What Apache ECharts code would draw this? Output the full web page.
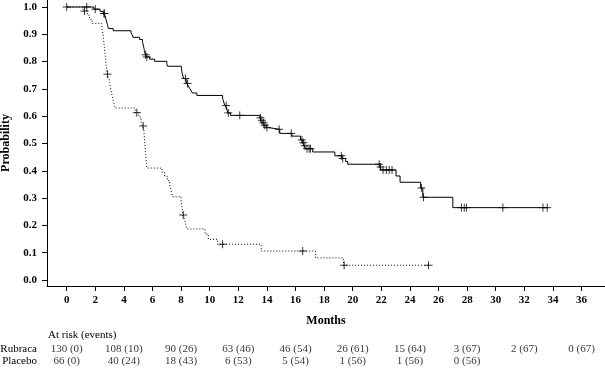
<!DOCTYPE html>
<html>
<head>
<meta charset="utf-8">
<script src="https://cdn.jsdelivr.net/npm/echarts@6/dist/echarts.min.js"></script>
<style>
html,body{margin:0;padding:0;background:#fff;}
#chart{width:605px;height:368px;}
</style>
</head>
<body>
<div id="chart"></div>
<script>
// ---------- DATA ----------
const xTicks = [0,2,4,6,8,10,12,14,16,18,20,22,24,26,28,30,32,34,36];
const yTicks = [0,0.1,0.2,0.3,0.4,0.5,0.6,0.7,0.8,0.9,1.0];

const rubracaTimes = [0,1.9,2.33,2.55,2.68,2.72,2.76,2.8,2.84,2.88,2.92,3.25,4.5,4.6,4.63,5.1,5.3,5.33,5.37,5.4,5.43,5.46,5.5,5.58,5.8,6.15,7.0,7.05,8.02,8.05,8.08,8.12,8.2,8.35,8.4,8.5,8.6,8.7,8.8,9.1,10.9,10.95,11.0,11.08,11.18,11.22,11.26,11.45,13.5,13.6,13.7,13.8,13.95,14.15,14.9,15.75,16.35,16.5,16.6,16.7,17.2,18.75,19.25,19.5,19.65,21.9,22.0,23.03,23.31,24.75,24.9,27.0];
const rubracaSurv  = [1.0,0.992,0.984,0.976,0.968,0.961,0.953,0.945,0.937,0.929,0.921,0.913,0.905,0.897,0.889,0.881,0.873,0.865,0.857,0.849,0.841,0.833,0.825,0.817,0.809,0.801,0.792,0.783,0.774,0.765,0.756,0.747,0.738,0.729,0.72,0.711,0.702,0.693,0.685,0.676,0.666,0.657,0.648,0.639,0.63,0.621,0.612,0.603,0.594,0.585,0.576,0.567,0.558,0.552,0.537,0.527,0.513,0.503,0.492,0.481,0.469,0.455,0.445,0.434,0.424,0.414,0.403,0.381,0.358,0.337,0.303,0.265];
const rubracaCensor = [0,1.4,2.0,2.6,2.65,5.52,5.6,8.3,8.45,11.15,11.3,12.1,13.55,13.65,13.75,13.85,14.0,14.85,15.7,16.45,16.55,16.65,16.8,16.95,17.05,19.2,19.3,21.85,21.95,22.12,22.35,22.55,22.75,24.8,24.95,27.6,27.8,27.95,30.5,33.3,33.6];

const placeboTimes = [0,1.15,1.45,1.6,1.77,2.45,2.5,2.55,2.58,2.61,2.64,2.67,2.7,2.73,2.76,2.8,2.83,2.95,3.0,3.05,3.1,3.17,3.24,3.31,3.38,4.78,5.05,5.2,5.3,5.4,5.42,5.45,5.47,5.5,5.52,5.55,5.58,5.6,6.65,6.85,7.05,7.2,7.27,7.33,7.4,8.0,8.05,8.1,8.12,8.25,8.32,8.4,9.67,9.9,10.55,13.6,17.4,19.35];
const placeboSurv  = [1.0,0.985,0.97,0.955,0.94,0.925,0.909,0.894,0.879,0.864,0.848,0.833,0.818,0.802,0.786,0.77,0.754,0.739,0.723,0.708,0.692,0.677,0.661,0.646,0.63,0.613,0.597,0.58,0.564,0.547,0.529,0.512,0.494,0.477,0.46,0.443,0.426,0.41,0.395,0.38,0.364,0.349,0.334,0.32,0.305,0.288,0.271,0.254,0.238,0.221,0.204,0.187,0.168,0.149,0.131,0.106,0.081,0.054];
const placeboCensor = [1.25,2.85,4.9,5.35,8.15,10.9,16.5,19.4,25.3];

const riskTimesRubraca = [0,4,8,12,16,20,24,28,32,36];
const riskRubraca = ['130 (0)','108 (10)','90 (26)','63 (46)','46 (54)','26 (61)','15 (64)','3 (67)','2 (67)','0 (67)'];
const riskTimesPlacebo = [0,4,8,12,16,20,24,28];
const riskPlacebo = ['66 (0)','40 (24)','18 (43)','6 (53)','5 (54)','1 (56)','1 (56)','0 (56)'];

// ---------- HELPERS ----------
function survAt(times, surv, t){
  let v = surv[0];
  for (let i=0;i<times.length;i++){ if (times[i] <= t) v = surv[i]; }
  return v;
}
function curve(times, surv, endT){
  const d = times.map((t,i)=>[t,surv[i]]);
  d.push([endT, surv[surv.length-1]]);
  return d;
}
function censorPts(times, surv, ct){
  return ct.map(t=>[t, survAt(times, surv, t)]);
}

const FONT = 'Liberation Serif';
const XMIN = -1.378, XMAX = 37.64;
const plus = 'path://M4,0L4,8M0,4L8,4';

const chart = echarts.init(document.getElementById('chart'), null, {renderer:'canvas'});
chart.setOption({
  animation:false,
  backgroundColor:'#fff',
  grid:[
    {left:47,right:0,top:0,height:286,outerBoundsMode:'none',containLabel:false},
    {left:47,right:0,top:343,height:24,outerBoundsMode:'none',containLabel:false}
  ],
  xAxis:[
    {type:'value',gridIndex:0,min:XMIN,max:XMAX,
     name:'Months',nameLocation:'middle',nameGap:29,
     nameTextStyle:{fontFamily:FONT,fontWeight:'bold',fontSize:12,color:'#000'},
     axisLine:{show:true,onZero:false,lineStyle:{color:'#000',width:1}},
     axisTick:{show:true,length:5,customValues:xTicks,lineStyle:{color:'#000'}},
     axisLabel:{customValues:xTicks,margin:9,fontFamily:FONT,fontWeight:'bold',fontSize:11,color:'#000'},
     splitLine:{show:false}},
    {type:'value',gridIndex:1,min:XMIN,max:XMAX,show:false}
  ],
  yAxis:[
    {type:'value',gridIndex:0,min:-0.02198,max:1.02564,
     name:'Probability',nameLocation:'middle',nameGap:34,nameRotate:90,
     nameTextStyle:{fontFamily:FONT,fontWeight:'bold',fontSize:12,color:'#000'},
     axisLine:{show:true,onZero:false,lineStyle:{color:'#000',width:1}},
     axisTick:{show:true,length:5,customValues:yTicks,lineStyle:{color:'#000'}},
     axisLabel:{customValues:yTicks,margin:10,fontFamily:FONT,fontWeight:'bold',fontSize:11,color:'#000',
       formatter:v=>Number(v).toFixed(1)},
     splitLine:{show:false}},
    {type:'category',gridIndex:1,data:['Placebo','Rubraca'],
     axisLine:{show:false},axisTick:{show:false},splitLine:{show:false},
     axisLabel:{interval:0,margin:10,fontFamily:FONT,fontSize:11,color:'#000'}}
  ],
  graphic:[
    {type:'text',left:48,top:330,style:{text:'At risk (events)',font:'11px "Liberation Serif"',fill:'#000'}}
  ],
  series:[
    {type:'line',step:'end',data:curve(rubracaTimes,rubracaSurv,33.6),symbol:'none',
     lineStyle:{color:'#000',width:1,type:'solid'},z:3},
    {type:'line',step:'end',data:curve(placeboTimes,placeboSurv,25.3),symbol:'none',
     lineStyle:{color:'#000',width:1,type:[1,2]},z:3},
    {type:'scatter',data:censorPts(rubracaTimes,rubracaSurv,rubracaCensor),symbol:plus,symbolSize:8,
     itemStyle:{color:'rgba(0,0,0,0)',borderColor:'#000',borderWidth:1},z:4},
    {type:'scatter',data:censorPts(placeboTimes,placeboSurv,placeboCensor),symbol:plus,symbolSize:8,
     itemStyle:{color:'rgba(0,0,0,0)',borderColor:'#000',borderWidth:1},z:4},
    {type:'scatter',xAxisIndex:1,yAxisIndex:1,symbolSize:1,itemStyle:{color:'rgba(0,0,0,0)'},
     data:riskTimesRubraca.map((t,i)=>[t,'Rubraca',riskRubraca[i]]),
     label:{show:true,position:'inside',formatter:p=>p.value[2],fontFamily:FONT,fontSize:11,color:'#000'}},
    {type:'scatter',xAxisIndex:1,yAxisIndex:1,symbolSize:1,itemStyle:{color:'rgba(0,0,0,0)'},
     data:riskTimesPlacebo.map((t,i)=>[t,'Placebo',riskPlacebo[i]]),
     label:{show:true,position:'inside',formatter:p=>p.value[2],fontFamily:FONT,fontSize:11,color:'#000'}}
  ]
});
</script>
</body>
</html>
